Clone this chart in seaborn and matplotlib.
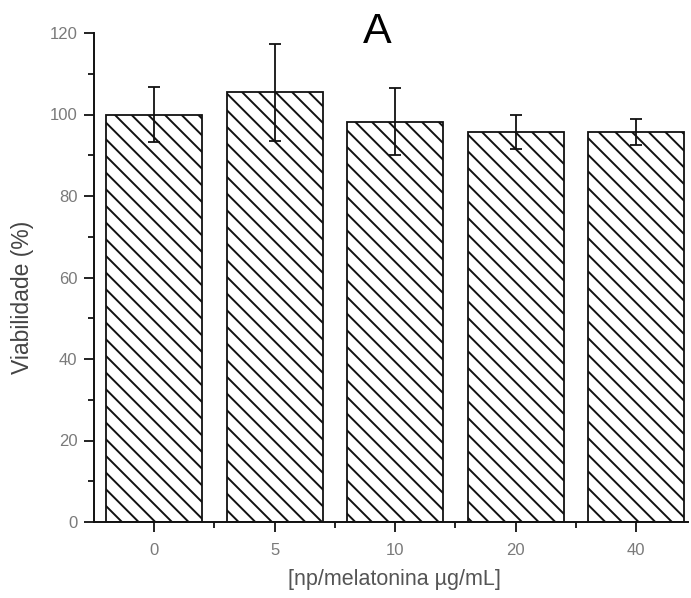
import matplotlib
matplotlib.use("Agg")
import matplotlib.pyplot as plt
from matplotlib.ticker import MultipleLocator, FixedLocator
import numpy as np
import pandas as pd
import seaborn as sns

# Concentrations of melatonin nanoparticles and cell viability
concentrations = ["0", "5", "10", "20", "40"]
viability = [100.0, 105.4, 98.2, 95.7, 95.7]
viability_sd = [6.8, 12.0, 8.2, 4.2, 3.2]

sns.set_style("ticks")
plt.rcParams["font.family"] = ["Liberation Sans", "DejaVu Sans"]
plt.rcParams["hatch.linewidth"] = 1.4
plt.rcParams["hatch.color"] = "#222222"

df = pd.DataFrame({"conc": concentrations, "viab": viability})

fig = plt.figure(figsize=(6.91, 5.98), dpi=100)
ax = fig.add_axes([94 / 691, 1 - 522 / 598, (688 - 94) / 691, (522 - 33) / 598])

sns.barplot(data=df, x="conc", y="viab", order=concentrations, ax=ax,
            color="white", edgecolor="#111111", linewidth=1.3,
            hatch="\\\\", errorbar=None, width=0.8, saturation=1)

ax.errorbar(np.arange(len(concentrations)), viability, yerr=viability_sd,
            fmt="none", ecolor="#111111", elinewidth=1.3, capsize=4.5,
            capthick=1.3, zorder=5)

ax.set_xlim(-0.5, 4.43)
ax.set_ylim(0, 120)
ax.yaxis.set_major_locator(MultipleLocator(20))
ax.yaxis.set_minor_locator(MultipleLocator(10))
ax.xaxis.set_minor_locator(FixedLocator([0.5, 1.5, 2.5, 3.5]))

for side in ("top", "right"):
    ax.spines[side].set_visible(False)
for side in ("left", "bottom"):
    ax.spines[side].set_linewidth(1.4)
    ax.spines[side].set_color("#111111")

ax.tick_params(axis="both", which="major", direction="out", length=7, width=1.3,
               color="#111111", labelsize=12, labelcolor="#7a7a7a")
ax.tick_params(axis="both", which="minor", direction="out", length=4, width=1.3,
               color="#111111")
ax.tick_params(axis="y", which="major", pad=5)
ax.tick_params(axis="x", which="major", pad=8)

ax.set_xlabel("")
ax.set_ylabel("")

fig.text(23 / 691, 1 - 297 / 598, "Viabilidade (%)", rotation=90,
         ha="center", va="center", fontsize=16.5, color="#444444")
fig.text(394 / 691, 1 - 580 / 598, "[np/melatonina \u00b5g/mL]",
         ha="center", va="center", fontsize=15.5, color="#555555")
fig.text(377 / 691, 1 - 43 / 598, "A", ha="center", va="baseline",
         fontsize=31, color="black")

fig.savefig("out.png", dpi=100)
